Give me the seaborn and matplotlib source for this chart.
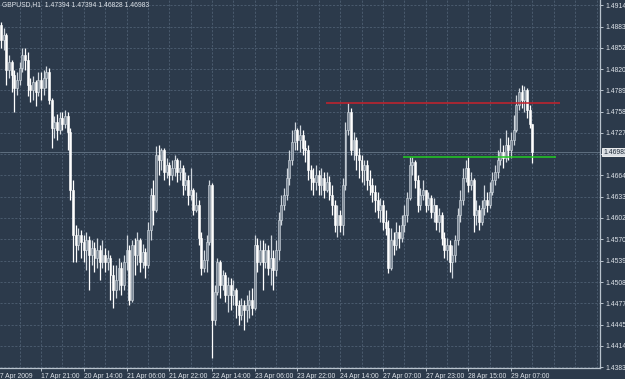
import numpy as np
import matplotlib
matplotlib.use("Agg")
import matplotlib.pyplot as plt
import seaborn as sns

# ---------------- data ----------------
title_text = "GBPUSD,H1  1.47394 1.47394 1.46828 1.46983"

opens = [
 1.4885,1.4863,1.4871,1.4819,1.4831,1.4812,1.4793,1.4805,1.4822,1.4841,
 1.4834,1.4797,1.4790,1.4802,1.4787,1.4805,1.4793,1.4807,1.4816,1.4775,
 1.4734,1.4743,1.4731,1.4749,1.4740,1.4752,1.4728,1.4643,1.4577,1.4562,
 1.4577,1.4567,1.4555,1.4570,1.4548,1.4558,1.4543,1.4555,1.4537,1.4548,
 1.4537,1.4543,1.4518,1.4496,1.4511,1.4529,1.4504,1.4537,1.4555,1.4482,
 1.4562,1.4548,1.4570,1.4537,1.4552,1.4533,1.4584,1.4636,1.4614,1.4695,
 1.4687,1.4702,1.4670,1.4680,1.4665,1.4675,1.4687,1.4670,1.4675,1.4650,
 1.4658,1.4636,1.4643,1.4614,1.4621,1.4573,1.4529,1.4540,1.4567,1.4650,
 1.4452,1.4493,1.4537,1.4504,1.4518,1.4489,1.4504,1.4489,1.4496,1.4474,
 1.4460,1.4474,1.4467,1.4474,1.4482,1.4470,1.4562,1.4537,1.4555,1.4537,
 1.4555,1.4529,1.4543,1.4526,1.4555,1.4599,1.4621,1.4636,1.4661,1.4687,
 1.4714,1.4731,1.4717,1.4724,1.4705,1.4702,1.4672,1.4661,1.4655,1.4665,
 1.4650,1.4661,1.4643,1.4655,1.4636,1.4621,1.4592,1.4606,1.4592,1.4650,
 1.4731,1.4758,1.4702,1.4717,1.4695,1.4687,1.4672,1.4680,1.4658,1.4650,
 1.4640,1.4628,1.4614,1.4621,1.4596,1.4587,1.4529,1.4570,1.4562,1.4581,
 1.4573,1.4592,1.4606,1.4631,1.4680,1.4684,1.4658,1.4621,1.4636,1.4643,
 1.4621,1.4631,1.4611,1.4621,1.4596,1.4606,1.4573,1.4555,1.4562,1.4537,
 1.4548,1.4570,1.4606,1.4628,1.4661,1.4675,1.4650,1.4658,1.4606,1.4614,
 1.4596,1.4617,1.4628,1.4621,1.4640,1.4658,1.4670,1.4687,1.4699,1.4690,
 1.4709,1.4702,1.4717,1.4731,1.4768,1.4787,1.4775,1.4790,1.4760,1.47394,
]

highs = [
 1.4890,1.4881,1.4874,1.4841,1.4834,1.4819,1.4816,1.4831,1.4851,1.4851,
 1.4846,1.4807,1.4810,1.4805,1.4816,1.4816,1.4819,1.4825,1.4822,1.4778,
 1.4752,1.4755,1.4758,1.4758,1.4760,1.4758,1.4734,1.4658,1.4592,1.4587,
 1.4584,1.4577,1.4581,1.4576,1.4570,1.4567,1.4573,1.4562,1.4570,1.4558,
 1.4555,1.4548,1.4533,1.4533,1.4543,1.4537,1.4548,1.4577,1.4562,1.4570,
 1.4573,1.4581,1.4573,1.4564,1.4558,1.4596,1.4646,1.4658,1.4708,1.4709,
 1.4705,1.4705,1.4690,1.4684,1.4687,1.4695,1.4690,1.4687,1.4680,1.4670,
 1.4665,1.4675,1.4646,1.4640,1.4628,1.4581,1.4555,1.4577,1.4658,1.4653,
 1.4504,1.4543,1.4540,1.4526,1.4523,1.4515,1.4514,1.4511,1.4499,1.4482,
 1.4484,1.4482,1.4489,1.4496,1.4499,1.4577,1.4573,1.4570,1.4570,1.4565,
 1.4562,1.4577,1.4555,1.4570,1.4611,1.4636,1.4646,1.4675,1.4702,1.4731,
 1.4743,1.4734,1.4739,1.4731,1.4717,1.4709,1.4680,1.4675,1.4680,1.4672,
 1.4675,1.4670,1.4670,1.4664,1.4650,1.4628,1.4621,1.4614,1.4661,1.4743,
 1.4771,1.4763,1.4728,1.4721,1.4705,1.4695,1.4687,1.4687,1.4672,1.4661,
 1.4650,1.4640,1.4631,1.4628,1.4614,1.4599,1.4587,1.4581,1.4596,1.4592,
 1.4606,1.4621,1.4640,1.4692,1.4692,1.4687,1.4665,1.4646,1.4658,1.4643,
 1.4640,1.4636,1.4631,1.4621,1.4617,1.4611,1.4581,1.4573,1.4570,1.4562,
 1.4577,1.4617,1.4643,1.4675,1.4687,1.4692,1.4670,1.4661,1.4628,1.4621,
 1.4628,1.4650,1.4640,1.4655,1.4670,1.4680,1.4702,1.4719,1.4709,1.4731,
 1.4721,1.4728,1.4753,1.4783,1.4793,1.4797,1.4796,1.4793,1.4768,1.47394,
]

lows = [
 1.4851,1.4849,1.4797,1.4807,1.4787,1.4758,1.4783,1.4797,1.4816,1.4819,
 1.4781,1.4772,1.4775,1.4766,1.4781,1.4775,1.4783,1.4793,1.4769,1.4705,
 1.4719,1.4717,1.4725,1.4731,1.4734,1.4702,1.4628,1.4537,1.4537,1.4555,
 1.4543,1.4537,1.4526,1.4496,1.4533,1.4523,1.4529,1.4511,1.4529,1.4523,
 1.4526,1.4482,1.4470,1.4484,1.4496,1.4489,1.4496,1.4526,1.4474,1.4479,
 1.4518,1.4533,1.4523,1.4529,1.4514,1.4529,1.4570,1.4592,1.4611,1.4665,
 1.4672,1.4658,1.4661,1.4650,1.4658,1.4664,1.4655,1.4658,1.4636,1.4643,
 1.4621,1.4628,1.4606,1.4611,1.4562,1.4518,1.4523,1.4523,1.4562,1.4396,
 1.4445,1.4489,1.4484,1.4496,1.4479,1.4464,1.4467,1.4474,1.4455,1.4445,
 1.4452,1.4438,1.4449,1.4455,1.4460,1.4467,1.4523,1.4533,1.4496,1.4529,
 1.4518,1.4504,1.4496,1.4517,1.4540,1.4592,1.4614,1.4628,1.4650,1.4680,
 1.4702,1.4702,1.4699,1.4695,1.4684,1.4658,1.4643,1.4636,1.4643,1.4636,
 1.4636,1.4631,1.4640,1.4628,1.4606,1.4581,1.4574,1.4581,1.4577,1.4643,
 1.4724,1.4695,1.4687,1.4672,1.4661,1.4655,1.4650,1.4643,1.4636,1.4626,
 1.4611,1.4602,1.4596,1.4584,1.4577,1.4521,1.4526,1.4548,1.4555,1.4558,
 1.4567,1.4581,1.4596,1.4628,1.4665,1.4646,1.4611,1.4614,1.4628,1.4611,
 1.4614,1.4602,1.4596,1.4584,1.4581,1.4562,1.4543,1.4540,1.4523,1.4514,
 1.4537,1.4562,1.4596,1.4621,1.4655,1.4640,1.4643,1.4581,1.4592,1.4584,
 1.4592,1.4606,1.4611,1.4617,1.4636,1.4650,1.4661,1.4680,1.4675,1.4684,
 1.4687,1.4690,1.4709,1.4728,1.4760,1.4763,1.4758,1.4749,1.4734,1.46828,
]

closes = [
 1.4863,1.4871,1.4819,1.4831,1.4812,1.4793,1.4805,1.4822,1.4841,1.4834,
 1.4797,1.4790,1.4802,1.4787,1.4805,1.4793,1.4807,1.4816,1.4775,1.4734,
 1.4743,1.4731,1.4749,1.4740,1.4752,1.4728,1.4643,1.4577,1.4562,1.4577,
 1.4567,1.4555,1.4570,1.4548,1.4558,1.4543,1.4555,1.4537,1.4548,1.4537,
 1.4543,1.4518,1.4496,1.4511,1.4529,1.4504,1.4537,1.4555,1.4482,1.4562,
 1.4548,1.4570,1.4537,1.4552,1.4533,1.4584,1.4636,1.4614,1.4695,1.4687,
 1.4702,1.4670,1.4680,1.4665,1.4675,1.4687,1.4670,1.4675,1.4650,1.4658,
 1.4636,1.4643,1.4614,1.4621,1.4573,1.4529,1.4540,1.4567,1.4650,1.4452,
 1.4493,1.4537,1.4504,1.4518,1.4489,1.4504,1.4489,1.4496,1.4474,1.4460,
 1.4474,1.4467,1.4474,1.4482,1.4470,1.4562,1.4537,1.4555,1.4537,1.4555,
 1.4529,1.4543,1.4526,1.4555,1.4599,1.4621,1.4636,1.4661,1.4687,1.4714,
 1.4731,1.4717,1.4724,1.4705,1.4702,1.4672,1.4661,1.4655,1.4665,1.4650,
 1.4661,1.4643,1.4655,1.4636,1.4621,1.4592,1.4606,1.4592,1.4650,1.4731,
 1.4758,1.4702,1.4717,1.4695,1.4687,1.4672,1.4680,1.4658,1.4650,1.4640,
 1.4628,1.4614,1.4621,1.4596,1.4587,1.4529,1.4570,1.4562,1.4581,1.4573,
 1.4592,1.4606,1.4631,1.4680,1.4684,1.4658,1.4621,1.4636,1.4643,1.4621,
 1.4631,1.4611,1.4621,1.4596,1.4606,1.4573,1.4555,1.4562,1.4537,1.4548,
 1.4570,1.4606,1.4628,1.4661,1.4675,1.4650,1.4658,1.4606,1.4614,1.4596,
 1.4617,1.4628,1.4621,1.4640,1.4658,1.4670,1.4687,1.4699,1.4690,1.4709,
 1.4702,1.4717,1.4731,1.4768,1.4787,1.4775,1.4790,1.4760,1.4740,1.46983,
]

time_labels = ["17 Apr 21:00", "20 Apr 14:00", "21 Apr 06:00", "21 Apr 22:00",
               "22 Apr 14:00", "23 Apr 06:00", "23 Apr 22:00", "24 Apr 14:00",
               "27 Apr 07:00", "27 Apr 23:00", "28 Apr 15:00", "29 Apr 07:00"]
time_label_bars = [15, 31, 47, 63, 79, 95, 111, 127, 143, 159, 175, 191]
first_label = "17 Apr 2009"
first_label_bar = -1.9

price_ticks = [1.49145, 1.48830, 1.48520, 1.48205, 1.47895, 1.47580, 1.47270,
               1.46955, 1.46645, 1.46330, 1.46020, 1.45705, 1.45395, 1.45080,
               1.44770, 1.44455, 1.44145, 1.43830]
hidden_tick = 1.46955   # covered by the bid price box in the reference

resistance = 1.4771
resistance_bars = (121.7, 209.4)
support = 1.4692
support_bars = (150.6, 207.9)
bid = 1.46983

# ---------------- style ----------------
bg = "#2c3a4b"
grid_c = "#4a5b6e"
txt_c = "#dfe4ea"
axis_c = "#b9c3cd"
FS = 4.9
FONT = ["Liberation Sans", "DejaVu Sans"]

sns.set_theme(style="dark", rc={"axes.facecolor": bg, "figure.facecolor": bg})
plt.rcParams["font.family"] = FONT

fig = plt.figure(figsize=(6.25, 3.79), dpi=100)
ax = fig.add_axes([0, 11 / 379, 600 / 625, 368 / 379])
ax.set_facecolor(bg)

o = np.array(opens); h = np.array(highs); l = np.array(lows); c = np.array(closes)
idx = np.arange(len(o))
up = c > o

ax.set_xlim(-0.375, 224.3)
ax.set_ylim(1.43818, 1.49220)

# grid
for gx in range(7, 225, 8):
    ax.axvline(gx, color=grid_c, lw=0.7, ls=(0, (2.2, 1.6)), zorder=0.5)
for gy in price_ticks:
    ax.axhline(gy, color=grid_c, lw=0.7, ls=(0, (2.2, 1.6)), zorder=0.5)

# bid line
ax.axhline(bid, color="#5f6f80", lw=0.7, zorder=0.8)

# candles
wick_cols = np.where(up, "#cfd6dd", "#ffffff")
ax.vlines(idx, l, h, colors=wick_cols, lw=0.9, zorder=2)
bottoms = np.minimum(o, c)
heights = np.maximum(np.abs(c - o), 0.00004)
face = np.where(up, "#7d8a97", "#ffffff")
edge = np.where(up, "#d5dce3", "#ffffff")
ax.bar(idx, heights, bottom=bottoms, width=0.72, color=face, edgecolor=edge,
       linewidth=0.4, zorder=3)

# horizontal levels
ax.hlines(resistance, *resistance_bars, color="#c8222c", lw=1.1, zorder=4)
ax.hlines(support, *support_bars, color="#22cc22", lw=1.1, zorder=4)

# axes / ticks
for s in ["left", "top"]:
    ax.spines[s].set_visible(False)
for s in ["right", "bottom"]:
    ax.spines[s].set_visible(True)
    ax.spines[s].set_color(axis_c)
    ax.spines[s].set_linewidth(0.9)

ax.yaxis.tick_right()
ax.set_yticks(price_ticks)
ax.set_yticklabels(["" if p == hidden_tick else f"{p:.5f}" for p in price_ticks])
ax.tick_params(axis="y", which="both", right=True, left=False, direction="out",
               length=2.5, width=0.7, color=axis_c, labelsize=FS,
               labelcolor=txt_c, pad=1.2)

ax.set_xticks(time_label_bars)
ax.set_xticklabels(time_labels)
for lb in ax.get_xticklabels():
    lb.set_ha("left")
ax.tick_params(axis="x", which="both", bottom=True, direction="out",
               length=2.5, width=0.7, color=axis_c, labelsize=FS,
               labelcolor=txt_c, pad=1.2)
ax.grid(False)
ax.annotate(first_label, xy=(first_label_bar, 0), xycoords=("data", "axes fraction"),
            xytext=(0, -3.7), textcoords="offset points", ha="left", va="top",
            fontsize=FS, color=txt_c, annotation_clip=False)

# title
fig.text(2 / 625, 1 - 5 / 379, title_text, ha="left", va="center",
         fontsize=FS, color=txt_c)

# current bid price box
fig.text(603 / 625, 1 - 152 / 379, f"{bid:.5f}", ha="left", va="center",
         fontsize=FS, color="#1e2a38", zorder=10,
         bbox=dict(boxstyle="square,pad=0.12", facecolor="#d9dee3",
                   edgecolor="#ffffff", linewidth=0.6))

fig.savefig("out.png", dpi=100, facecolor=bg)
